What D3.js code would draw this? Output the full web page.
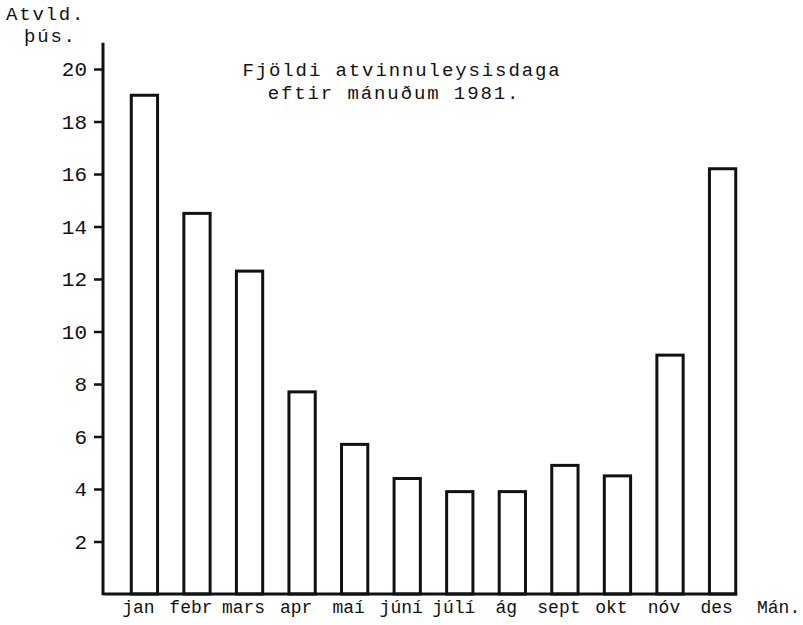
<!DOCTYPE html>
<html>
<head>
<meta charset="utf-8">
<script src="https://cdn.jsdelivr.net/npm/d3@7"></script>
<style>
  body { margin: 0; background: #fff; }
  svg text { font-family: "Courier New", "Liberation Mono", monospace; fill: #111; }
</style>
</head>
<body>
<svg id="chart" width="803" height="625"></svg>
<script>
  // thousands of unemployment days per month, 1981
  var months = ['jan','febr','mars','apr','maí','júní','júlí','ág','sept','okt','nóv','des'];
  var days = [19.0, 14.5, 12.3, 7.7, 5.7, 4.4, 3.9, 3.9, 4.9, 4.5, 9.1, 16.2];
  var yTicks = [2, 4, 6, 8, 10, 12, 14, 16, 18, 20];

  var data = months.map(function(m, i) { return { month: m, value: days[i] }; });

  var svg = d3.select("#chart"),
      axisX = 103,
      ink = "#111";

  var x = d3.scaleBand()
      .domain(months)
      .range([105, 762])
      .padding(0.5);

  var y = d3.scaleLinear()
      .domain([0, 20])
      .range([594, 69]);

  // y axis
  var yAxis = svg.append("g")
      .attr("transform", "translate(" + axisX + ",0)")
      .call(d3.axisLeft(y).tickValues(yTicks).tickSize(9).tickPadding(7));

  yAxis.select(".domain").remove();
  yAxis.selectAll(".tick line")
      .attr("stroke", ink)
      .attr("stroke-width", 2.5);
  yAxis.selectAll(".tick text")
      .attr("font-size", "21px")
      .attr("fill", ink);

  svg.append("line")
      .attr("x1", axisX).attr("x2", axisX)
      .attr("y1", y(0) + 1).attr("y2", y(21))
      .attr("stroke", ink)
      .attr("stroke-width", 3);

  // bars
  svg.append("g")
    .selectAll("rect")
      .data(data)
    .enter().append("rect")
      .attr("x", function(d) { return x(d.month); })
      .attr("y", function(d) { return y(d.value); })
      .attr("width", x.bandwidth())
      .attr("height", function(d) { return y(0) - y(d.value); })
      .attr("fill", "none")
      .attr("stroke", ink)
      .attr("stroke-width", 3);

  // baseline
  svg.append("line")
      .attr("x1", axisX)
      .attr("x2", x(months[months.length - 1]) + x.bandwidth() + 1.5)
      .attr("y1", y(0)).attr("y2", y(0))
      .attr("stroke", ink)
      .attr("stroke-width", 3);

  // month labels
  svg.append("g")
    .selectAll("text")
      .data(months)
    .enter().append("text")
      .attr("x", function(d) { return x(d) + x.bandwidth() / 2 - 6; })
      .attr("y", 613)
      .attr("text-anchor", "middle")
      .attr("font-size", "18px")
      .text(function(d) { return d; });

  svg.append("text")
      .attr("x", 757).attr("y", 613)
      .attr("font-size", "18px")
      .text("Mán.");

  // axis title
  svg.append("text")
      .attr("x", 6).attr("y", 20)
      .attr("font-size", "19px")
      .attr("letter-spacing", "1.8px")
      .text("Atvld.");
  svg.append("text")
      .attr("x", 24).attr("y", 42)
      .attr("font-size", "19px")
      .attr("letter-spacing", "1.8px")
      .text("þús.");

  // chart title
  svg.append("text")
      .attr("x", 402).attr("y", 76)
      .attr("text-anchor", "middle")
      .attr("font-size", "19px")
      .attr("letter-spacing", "1.9px")
      .text("Fjöldi atvinnuleysisdaga");
  svg.append("text")
      .attr("x", 394).attr("y", 99)
      .attr("text-anchor", "middle")
      .attr("font-size", "19px")
      .attr("letter-spacing", "1.9px")
      .text("eftir mánuðum 1981.");
</script>
</body>
</html>
